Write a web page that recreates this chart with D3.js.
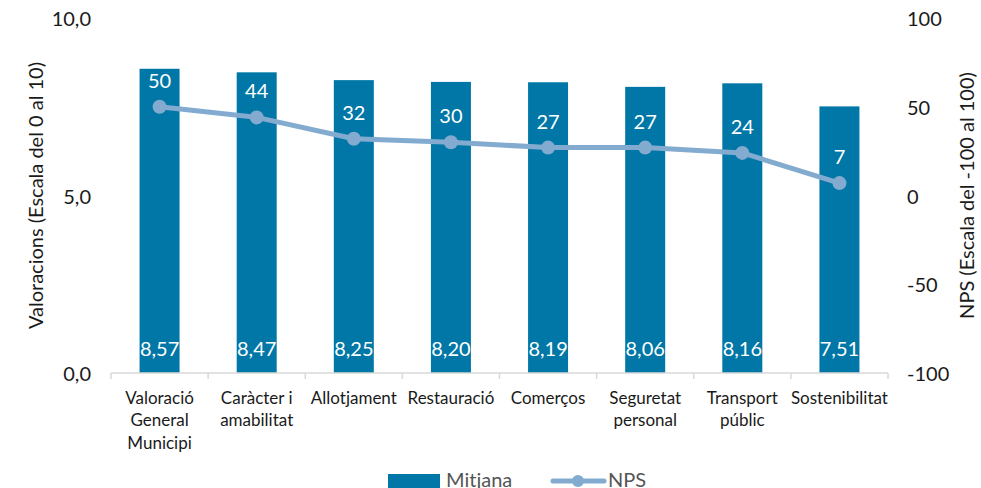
<!DOCTYPE html>
<html>
<head>
<meta charset="utf-8">
<script src="https://cdn.jsdelivr.net/npm/d3@7"></script>
<style>
  html, body { margin: 0; padding: 0; background: #fff; }
  svg { display: block; font-family: Lato, "Open Sans", sans-serif; }
</style>
</head>
<body>
<svg id="chart" width="981" height="488"></svg>
<script>
// Categories (multi-line labels split on "\n")
const categories = [
  "Valoració\nGeneral\nMunicipi",
  "Caràcter i\namabilitat",
  "Allotjament",
  "Restauració",
  "Comerços",
  "Seguretat\npersonal",
  "Transport\npúblic",
  "Sostenibilitat"
];
// Average rating (0–10)
const mitjana = [8.57, 8.47, 8.25, 8.20, 8.19, 8.06, 8.16, 7.51];
// Net Promoter Score (-100–100)
const nps = [50, 44, 32, 30, 27, 27, 24, 7];
const leftTicks = [0, 5, 10];
const rightTicks = [-100, -50, 0, 50, 100];

const barColor = "#0077a6";
const lineColor = "#82abcf";
const textColor = "#1a1a1a";
const fmt1 = d3.format(".1f");
const comma = s => s.replace(".", ",");

const svg = d3.select("#chart");
const plotLeft = 111, plotRight = 888, plotTop = 18, plotBottom = 373;

const xb = d3.scaleBand().domain(d3.range(categories.length)).range([plotLeft, plotRight]);
const cx = i => xb(i) + xb.bandwidth() / 2;
const yL = d3.scaleLinear().domain([0, 10]).range([plotBottom, plotTop]);
const yR = d3.scaleLinear().domain([-100, 100]).range([plotBottom, plotTop]);

// Bars
svg.append("g").selectAll("rect").data(mitjana).join("rect")
  .attr("x", (d, i) => cx(i) - 20)
  .attr("width", 40)
  .attr("y", d => yL(d))
  .attr("height", d => yL(0) - yL(d))
  .attr("fill", barColor);

// Bar value labels near the base
svg.append("g").selectAll("text").data(mitjana).join("text")
  .attr("x", (d, i) => cx(i))
  .attr("y", yL(0) - 25)
  .attr("text-anchor", "middle")
  .attr("dominant-baseline", "central")
  .attr("fill", "#fff")
  .attr("font-size", 20)
  .text(d => comma(d.toFixed(2)));

// Category axis
const axisG = svg.append("g").attr("transform", `translate(0,${plotBottom})`);
axisG.append("line").attr("x1", plotLeft).attr("x2", plotRight).attr("y1", 0).attr("y2", 0)
  .attr("stroke", "#d9d9d9").attr("stroke-width", 1.5);
axisG.selectAll("line.tick").data(d3.range(categories.length + 1)).join("line")
  .attr("class", "tick")
  .attr("x1", i => plotLeft + i * xb.bandwidth()).attr("x2", i => plotLeft + i * xb.bandwidth())
  .attr("y1", 0).attr("y2", 6)
  .attr("stroke", "#d9d9d9").attr("stroke-width", 1.5);

const catG = svg.append("g");
categories.forEach((c, i) => {
  const t = catG.append("text")
    .attr("x", cx(i))
    .attr("text-anchor", "middle")
    .attr("fill", textColor)
    .attr("font-size", 17);
  c.split("\n").forEach((line, j) => {
    t.append("tspan").attr("x", cx(i))
      .attr("y", 397 + j * 22.5)
      .attr("dominant-baseline", "central")
      .text(line);
  });
});

// Left value axis labels
svg.append("g").selectAll("text").data(leftTicks).join("text")
  .attr("x", 91).attr("y", d => yL(d))
  .attr("text-anchor", "end").attr("dominant-baseline", "central")
  .attr("fill", textColor).attr("font-size", 20)
  .text(d => comma(fmt1(d)));

// Right NPS axis labels
svg.append("g").selectAll("text").data(rightTicks).join("text")
  .attr("x", 907).attr("y", d => yR(d))
  .attr("text-anchor", "start").attr("dominant-baseline", "central")
  .attr("fill", textColor).attr("font-size", 20)
  .text(d => d);

// Axis titles
svg.append("text")
  .attr("transform", `translate(35,${(plotTop + plotBottom) / 2}) rotate(-90)`)
  .attr("text-anchor", "middle").attr("dominant-baseline", "central")
  .attr("fill", textColor).attr("font-size", 20)
  .text("Valoracions (Escala  del 0 al 10)");
svg.append("text")
  .attr("transform", `translate(966,${(plotTop + plotBottom) / 2}) rotate(-90)`)
  .attr("text-anchor", "middle").attr("dominant-baseline", "central")
  .attr("fill", textColor).attr("font-size", 20)
  .text("NPS (Escala  del -100 al 100)");

// NPS line
const line = d3.line().x((d, i) => cx(i)).y(d => yR(d));
svg.append("path").datum(nps)
  .attr("d", line).attr("fill", "none")
  .attr("stroke", lineColor).attr("stroke-width", 5).attr("stroke-linejoin", "round");
svg.append("g").selectAll("circle").data(nps).join("circle")
  .attr("cx", (d, i) => cx(i))
  .attr("cy", d => yR(d))
  .attr("r", 7).attr("fill", lineColor);

// NPS value labels
svg.append("g").selectAll("text").data(nps).join("text")
  .attr("x", (d, i) => cx(i))
  .attr("y", d => yR(d) - 27)
  .attr("text-anchor", "middle").attr("dominant-baseline", "central")
  .attr("fill", "#fff").attr("font-size", 20)
  .text(d => d);

// Legend
const lg = svg.append("g");
lg.append("rect").attr("x", 388).attr("y", 474).attr("width", 52).attr("height", 14).attr("fill", barColor);
lg.append("text").attr("x", 446).attr("y", 479).attr("dominant-baseline", "central")
  .attr("fill", "#555").attr("font-size", 20).text("Mitjana");
lg.append("line").attr("x1", 553).attr("x2", 604).attr("y1", 481).attr("y2", 481)
  .attr("stroke", lineColor).attr("stroke-width", 5).attr("stroke-linecap", "round");
lg.append("circle").attr("cx", 578).attr("cy", 481).attr("r", 6).attr("fill", lineColor);
lg.append("text").attr("x", 608).attr("y", 479).attr("dominant-baseline", "central")
  .attr("fill", "#555").attr("font-size", 20).text("NPS");
</script>
</body>
</html>
